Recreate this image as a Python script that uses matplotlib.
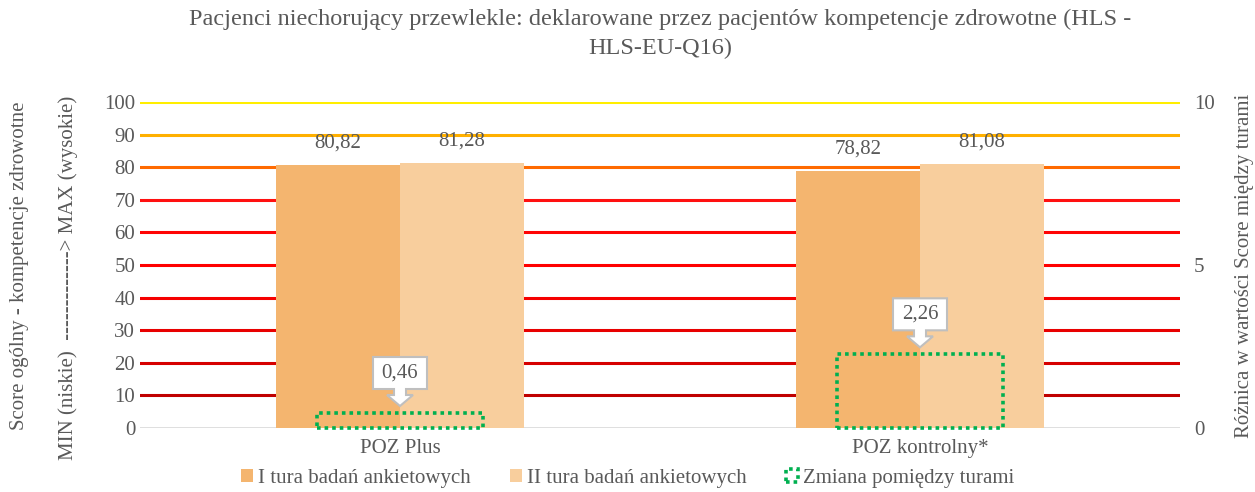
import matplotlib.pyplot as plt
import matplotlib.transforms as mtransforms
from matplotlib.patches import Patch, Polygon
import numpy as np

plt.rcParams['font.family'] = ['Liberation Serif', 'DejaVu Serif']

# Data
categories = ['POZ Plus', 'POZ kontrolny*']
tura_1 = [80.82, 78.82]
tura_2 = [81.28, 81.08]
zmiana = [0.46, 2.26]
left_ticks = [0, 10, 20, 30, 40, 50, 60, 70, 80, 90, 100]
right_ticks = [0, 5, 10]

title = ('Pacjenci niechorujący przewlekle: deklarowane przez pacjentów kompetencje zdrowotne (HLS -\n'
         'HLS-EU-Q16)')
series_names = ['I tura badań ankietowych', 'II tura badań ankietowych', 'Zmiana pomiędzy turami']

# Styles
text_col = '#595959'
c1 = '#F4B56F'
c2 = '#F8CE9D'
green = '#00B050'
grid_cols = ['#D9D9D9', '#C00000', '#D60000', '#E80000', '#F50000', '#FF0000',
             '#FF0505', '#FF1010', '#FF6A00', '#FFB000', '#FFEE00']


def fmt(v):
    return f'{v:.2f}'.replace('.', ',')


fig = plt.figure(figsize=(12.55, 4.92), dpi=100)
ax = fig.add_axes([140 / 1255, 64 / 492, 1040 / 1255, 326 / 492])
ax2 = ax.twinx()

x = np.arange(len(categories))
w = 0.238

# Colored horizontal grid lines
for t, c in zip(left_ticks, grid_cols):
    ax.axhline(t, color=c, lw=2.2 if t > 0 else 1.2, zorder=1)

ax.bar(x - w / 2, tura_1, w, color=c1, zorder=2)
ax.bar(x + w / 2, tura_2, w, color=c2, zorder=2)

for xi, v in zip(x - w / 2, tura_1):
    ax.text(xi, v + 3.8, fmt(v), ha='center', va='bottom', fontsize=15, color=text_col)
for xi, v in zip(x + w / 2, tura_2):
    ax.text(xi, v + 3.8, fmt(v), ha='center', va='bottom', fontsize=15, color=text_col)

ax.set_xlim(-0.5, 1.5)
ax.set_ylim(0, 100)
ax.set_yticks(left_ticks)
ax.set_xticks(x)
ax.set_xticklabels(categories)
ax.tick_params(axis='both', length=0, labelsize=15, colors=text_col)
ax.tick_params(axis='x', pad=8)
for s in ax.spines.values():
    s.set_visible(False)

# Change between rounds (secondary axis)
ax2.bar(x, zmiana, 0.318, facecolor='none', edgecolor=green, lw=2.6,
        linestyle=(0, (1, 1.1)), zorder=3, clip_on=False)
ax2.set_ylim(0, 10)
ax2.set_yticks(right_ticks)
ax2.tick_params(axis='y', length=0, labelsize=15, colors=text_col, pad=10)
for s in ax2.spines.values():
    s.set_visible(False)

# Callouts with value
px = 72 / fig.dpi
shape = np.array([
    [0, 7], [-13, 18], [-6, 18], [-6, 24], [-27, 24], [-27, 56],
    [27, 56], [27, 24], [6, 24], [6, 18], [13, 18]
]) * px
for xi, v in zip(x, zmiana):
    tr = (mtransforms.Affine2D().scale(1 / 72) + fig.dpi_scale_trans
          + mtransforms.ScaledTranslation(xi, v, ax2.transData))
    poly = Polygon(shape, closed=True, facecolor='white', edgecolor='#BFBFBF',
                   lw=1.5, transform=tr, zorder=5, clip_on=False)
    ax2.add_patch(poly)
    ax2.text(0, 40 * px, fmt(v), transform=tr, ha='center', va='center',
             fontsize=15, color=text_col, zorder=6)

fig.suptitle(title, x=0.526, y=0.982, fontsize=17.5, color=text_col, linespacing=1.5,
             fontfamily='Liberation Serif')

fig.text(20 / 1255, 0.46, 'Score ogólny - kompetencje zdrowotne', rotation=90,
         ha='center', va='center', fontsize=15, color=text_col)
fig.text(68 / 1255, 0.435, 'MIN (niskie)  -------------> MAX (wysokie)', rotation=90,
         ha='center', va='center', fontsize=15, color=text_col)
fig.text(1245 / 1255, 0.46, 'Różnica w wartości Score między turami', rotation=90,
         ha='center', va='center', fontsize=15, color=text_col)

handles = [
    Patch(facecolor=c1, edgecolor='none'),
    Patch(facecolor=c2, edgecolor='none'),
    Patch(facecolor='none', edgecolor=green, lw=2.6, linestyle=(0, (1, 1.1))),
]
fig.legend(handles, series_names, loc='center', bbox_to_anchor=(0.5, 0.028), ncol=3,
           frameon=False, fontsize=15, handlelength=0.55, handleheight=0.55,
           handletextpad=0.25, columnspacing=1.9, labelcolor=text_col)

fig.savefig('out.png', dpi=100)
